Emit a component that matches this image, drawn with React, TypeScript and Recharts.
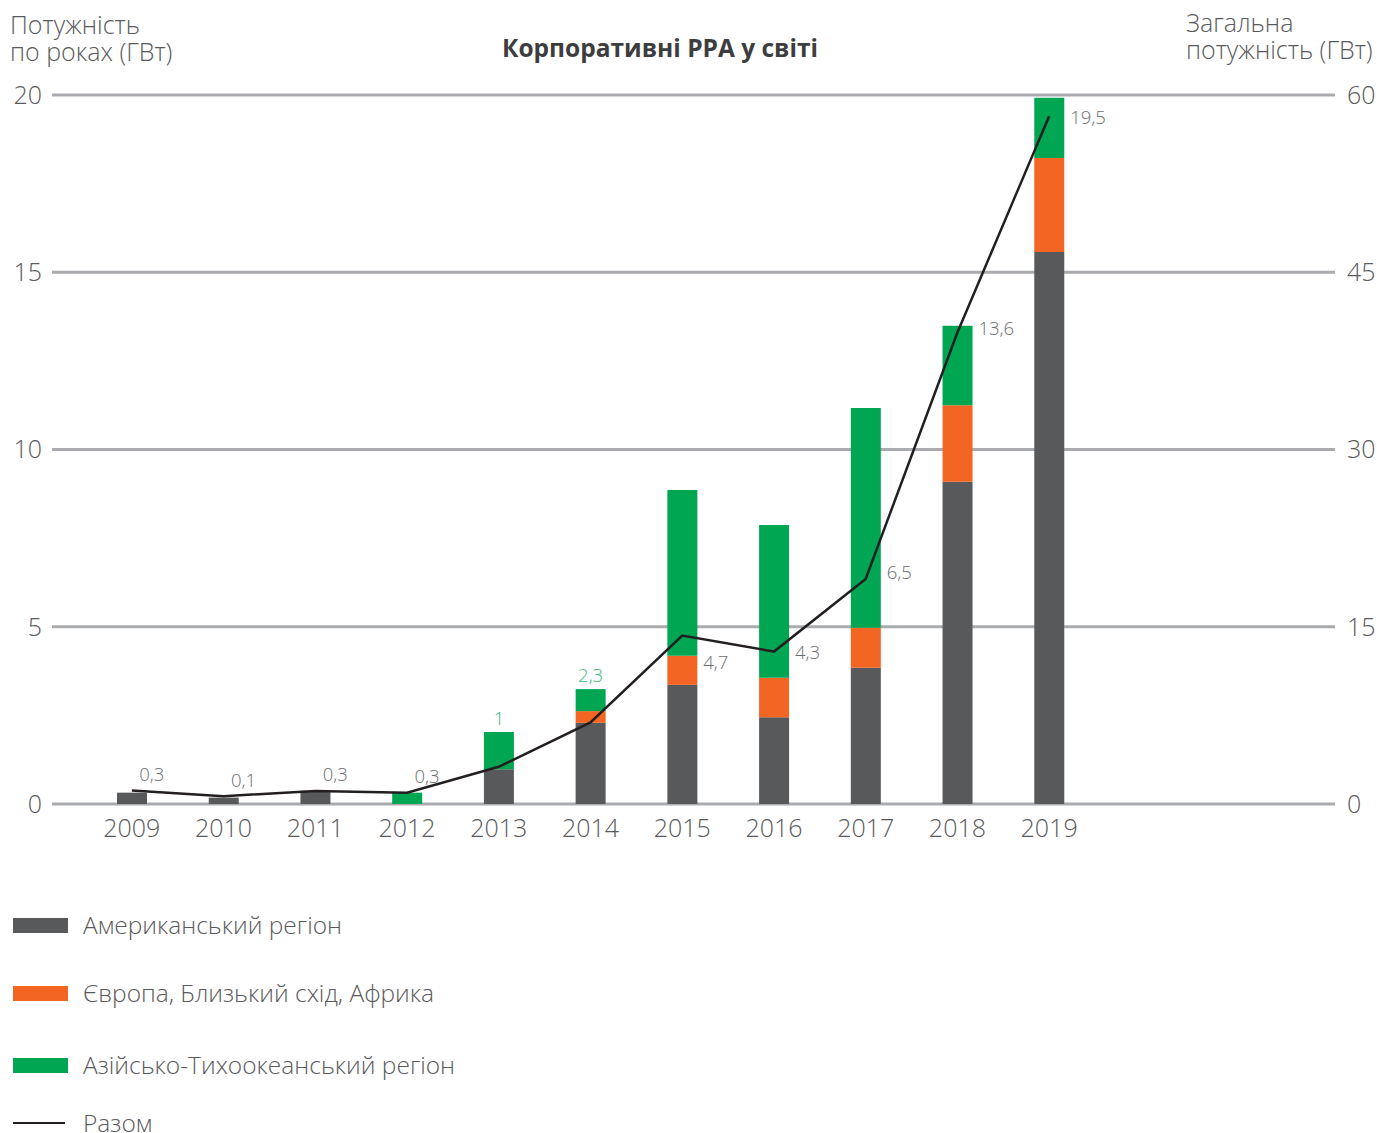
import React from "react";
import { ComposedChart, Bar, Line, XAxis, YAxis, CartesianGrid, LabelList } from "recharts";

const years = ["2009", "2010", "2011", "2012", "2013", "2014", "2015", "2016", "2017", "2018", "2019"];
const americas = [0.32, 0.18, 0.37, 0, 0.98, 2.29, 3.36, 2.45, 3.84, 9.09, 15.57];
const emea = [0, 0, 0, 0, 0, 0.33, 0.82, 1.11, 1.13, 2.16, 2.65];
const apac = [0, 0, 0, 0.32, 1.05, 0.62, 4.68, 4.31, 6.2, 2.24, 1.7];
const totals = [0.38, 0.22, 0.37, 0.32, 1.05, 2.3, 4.75, 4.3, 6.35, 13.3, 19.4];
const totalLabels = ["0,3", "0,1", "0,3", "0,3", "1", "2,3", "4,7", "4,3", "6,5", "13,6", "19,5"];
const leftTicks = [0, 5, 10, 15, 20];
const rightTicks = [0, 15, 30, 45, 60];

const legendItems = [
  { name: "Американський регіон", color: "#58595b", kind: "bar" },
  { name: "Європа, Близький схід, Африка", color: "#f26522", kind: "bar" },
  { name: "Азійсько-Тихоокеанський регіон", color: "#00a651", kind: "bar" },
  { name: "Разом", color: "#231f20", kind: "line" },
];

const data = years.map((y, i) => ({
  year: y,
  americas: americas[i],
  emea: emea[i],
  apac: apac[i],
  total: totals[i],
  label: totalLabels[i],
}));

const FONT = "'Open Sans', 'Noto Sans', sans-serif";
const TEXT = "#5a5a5c";

// years whose total label sits above the bar (green) instead of beside the line
const aboveBarYears = new Set(["2013", "2014"]);

const lineLabel = (props: any) => {
  const { x, y, index } = props;
  const yr = years[index];
  if (aboveBarYears.has(yr)) return null;
  const text = totalLabels[index];
  let dx = 20;
  let dy = -17;
  let anchor: "middle" | "start" = "middle";
  if (index >= 6) {
    anchor = "start";
    dx = 21;
    dy = index === 6 ? 26 : index === 8 ? -7 : index === 9 ? -5 : 0;
  }
  return (
    <text
      x={x + dx}
      y={y + dy}
      textAnchor={anchor}
      dominantBaseline="central"
      fill="#6d6e71"
      fontSize={18.5}
      fontFamily={FONT}
      fontWeight={300}
    >
      {text}
    </text>
  );
};

const barTopLabel = (props: any) => {
  const { x, y, width, value } = props;
  if (!aboveBarYears.has(String(value))) return null;
  const idx = years.indexOf(String(value));
  return (
    <text
      x={x + width / 2}
      y={y - 15}
      textAnchor="middle"
      dominantBaseline="central"
      fill="#3cb878"
      fontSize={18.5}
      fontFamily={FONT}
      fontWeight={300}
    >
      {totalLabels[idx]}
    </text>
  );
};

export default function App() {
  return (
    <div
      style={{
        position: "absolute",
        left: 0,
        top: 0,
        width: 1377,
        height: 1133,
        fontFamily: FONT,
        background: "#fff",
      }}
    >
      <div style={{ position: "absolute", left: 10, top: 11, fontSize: 25, lineHeight: "27px", color: TEXT, fontWeight: 300 }}>
        Потужність
        <br />
        по роках (ГВт)
      </div>
      <div style={{ position: "absolute", left: 1186, top: 9, fontSize: 25, lineHeight: "27px", color: TEXT, fontWeight: 300 }}>
        Загальна
        <br />
        потужність (ГВт)
      </div>
      <div
        style={{
          position: "absolute",
          left: 0,
          width: 1320,
          top: 31,
          textAlign: "center",
          fontSize: 24.5,
          fontWeight: 700,
          color: "#3d3d3f",
        }}
      >
        Корпоративні PPA у світі
      </div>
      <div style={{ position: "absolute", left: 0, top: 0 }}>
        <ComposedChart
          width={1377}
          height={870}
          data={data}
          margin={{ top: 95, right: 0, left: 0, bottom: 16 }}
          barSize={30}
        >
          <CartesianGrid yAxisId="left" horizontal vertical={false} stroke="#a9abae" strokeWidth={2.8} />
          <XAxis
            dataKey="year"
            axisLine={false}
            tickLine={false}
            tickSize={0}
            tickMargin={15}
            height={50}
            padding={{ left: 34, right: 240 }}
            tick={{ fill: TEXT, fontSize: 25, fontFamily: FONT, fontWeight: 300 }}
            interval={0}
          />
          <YAxis
            yAxisId="left"
            domain={[0, 20]}
            ticks={leftTicks}
            axisLine={false}
            tickLine={false}
            tickSize={0}
            tickMargin={10}
            width={52}
            tick={{ fill: TEXT, fontSize: 25, fontFamily: FONT, fontWeight: 300 }}
          />
          <YAxis
            yAxisId="right"
            orientation="right"
            domain={[0, 60]}
            ticks={rightTicks}
            allowDataOverflow
            axisLine={false}
            tickLine={false}
            tickSize={0}
            tickMargin={12}
            width={42}
            tick={{ fill: TEXT, fontSize: 25, fontFamily: FONT, fontWeight: 300, textAnchor: "start" }}
          />
          <Bar yAxisId="left" dataKey="americas" stackId="a" fill="#58595b" isAnimationActive={false} />
          <Bar yAxisId="left" dataKey="emea" stackId="a" fill="#f26522" isAnimationActive={false} />
          <Bar yAxisId="left" dataKey="apac" stackId="a" fill="#00a651" isAnimationActive={false}>
            <LabelList dataKey="year" content={barTopLabel} />
          </Bar>
          <Line
            yAxisId="right"
            dataKey="total"
            stroke="none"
            dot={false}
            activeDot={false}
            legendType="none"
            isAnimationActive={false}
          />
          <Line
            yAxisId="left"
            dataKey="total"
            type="linear"
            stroke="#231f20"
            strokeWidth={2.5}
            dot={false}
            activeDot={false}
            isAnimationActive={false}
          >
            <LabelList dataKey="label" content={lineLabel} />
          </Line>
        </ComposedChart>
      </div>
      {legendItems.map((item, i) => {
        const centers = [925, 993, 1065, 1123];
        const cy = centers[i];
        return (
          <div key={item.name} style={{ position: "absolute", left: 13, top: cy - 10, height: 20, display: "flex", alignItems: "center" }}>
            {item.kind === "bar" ? (
              <div style={{ width: 55, height: 15, background: item.color }} />
            ) : (
              <div style={{ width: 52, height: 2.5, background: item.color, marginRight: 3 }} />
            )}
            <span style={{ marginLeft: 15, fontSize: 24.5, lineHeight: "20px", color: TEXT, fontWeight: 300, whiteSpace: "nowrap" }}>{item.name}</span>
          </div>
        );
      })}
    </div>
  );
}
